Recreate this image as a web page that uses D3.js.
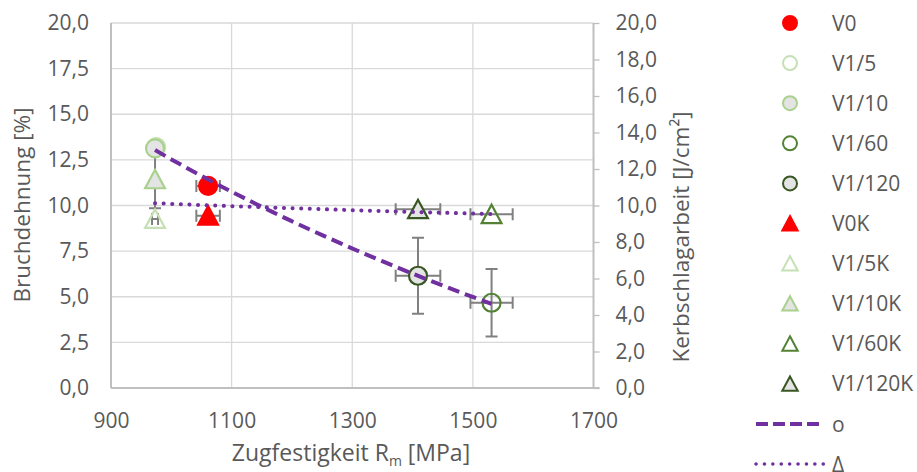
<!DOCTYPE html>
<html><head><meta charset="utf-8">
<script src="https://cdn.jsdelivr.net/npm/d3@7"></script>
<style>
body{margin:0;background:#fff;}
svg text{font-family:"Open Sans",sans-serif;fill:#595959;}
</style>
</head><body>
<svg id="chart" width="917" height="472"></svg>
<script>
// ---------- DATA ----------
const seriesNames = ["V0","V1/5","V1/10","V1/60","V1/120","V0K","V1/5K","V1/10K","V1/60K","V1/120K"];
const seriesGroup = ["o","o","o","o","o","Δ","Δ","Δ","Δ","Δ"];   // o = Bruchdehnung (left), Δ = Kerbschlagarbeit (right)
const tensileStrength = [1061, 975, 973, 1531, 1409, 1061, 973, 973, 1531, 1409];   // MPa
const measuredValues  = [11.07, 13.2, 13.13, 4.67, 6.15, 9.44, 9.26, 11.43, 9.52, 9.79];
const errTensile      = [19.5, 0, 0, 35, 37, 19.5, 5, 0, 35, 37];
const errValue        = [0, 0, 0, 1.85, 2.08, 0, 0, 1.58, 0, 0];
const trendNames = ["o","Δ"];
const xTickValues = [900, 1100, 1300, 1500, 1700];
const leftTickValues = [0, 2.5, 5, 7.5, 10, 12.5, 15, 17.5, 20];
const rightTickValues = [0, 2, 4, 6, 8, 10, 12, 14, 16, 18, 20];

// ---------- STYLE ----------
const styles = {
  "V0":      {shape:"circle",   stroke:"#ff0000", fill:"#ff0000"},
  "V1/5":    {shape:"circle",   stroke:"#c5e0b4", fill:"none"},
  "V1/10":   {shape:"circle",   stroke:"#a9d18e", fill:"#e4e4e4"},
  "V1/60":   {shape:"circle",   stroke:"#548235", fill:"none"},
  "V1/120":  {shape:"circle",   stroke:"#385723", fill:"#e4e4e4"},
  "V0K":     {shape:"triangle", stroke:"#ff0000", fill:"#ff0000"},
  "V1/5K":   {shape:"triangle", stroke:"#c5e0b4", fill:"none"},
  "V1/10K":  {shape:"triangle", stroke:"#a9d18e", fill:"#e4e4e4"},
  "V1/60K":  {shape:"triangle", stroke:"#548235", fill:"none"},
  "V1/120K": {shape:"triangle", stroke:"#385723", fill:"#e4e4e4"}
};
const trendStyle = {
  "o": {dash:"12,6", cap:"butt", width:4},
  "Δ": {dash:"0.1,8.5", cap:"round", width:4}
};
const purple = "#7030a0";
const gridColor = "#d9d9d9", axisColor = "#bfbfbf", errColor = "#808080";

// ---------- SCALES ----------
const svg = d3.select("#chart");
const x = d3.scaleLinear().domain([900, 1700]).range([111, 593.5]);
const yL = d3.scaleLinear().domain([0, 20]).range([388, 23]);
const yR = d3.scaleLinear().domain([0, 20]).range([388, 23]);
const locale = d3.formatLocale({decimal: ",", thousands: ".", grouping: [3], currency: ["", "€"]});
const f1 = locale.format(".1f");

const points = seriesNames.map((n, i) => ({
  name: n, group: seriesGroup[i], x: tensileStrength[i], y: measuredValues[i],
  ex: errTensile[i], ey: errValue[i]
}));
const yFor = p => p.group === "o" ? yL : yR;

// ---------- GRID ----------
const grid = svg.append("g");
grid.selectAll("line.h").data(leftTickValues.filter(v => v > 0)).join("line")
  .attr("x1", x(900)).attr("x2", x(1700))
  .attr("y1", d => yL(d)).attr("y2", d => yL(d))
  .attr("stroke", gridColor).attr("stroke-width", 1.3);
grid.selectAll("line.v").data(xTickValues.filter(v => v > 900 && v < 1700)).join("line")
  .attr("x1", d => x(d)).attr("x2", d => x(d))
  .attr("y1", yL(0)).attr("y2", yL(20))
  .attr("stroke", gridColor).attr("stroke-width", 1.3);

// ---------- AXES ----------
const axL = svg.append("g").attr("transform", `translate(${x(900)},0)`)
  .call(d3.axisLeft(yL).tickValues(leftTickValues).tickFormat(f1).tickSize(0).tickPadding(22));
const axR = svg.append("g").attr("transform", `translate(${x(1700)},0)`)
  .call(d3.axisRight(yR).tickValues(rightTickValues).tickFormat(f1).tickSize(6).tickPadding(16));
const axB = svg.append("g").attr("transform", `translate(0,${yL(0)})`)
  .call(d3.axisBottom(x).tickValues(xTickValues).tickFormat(d3.format("d")).tickSize(0).tickPadding(25));
[axL, axR, axB].forEach(a => {
  a.select(".domain").attr("stroke", axisColor).attr("stroke-width", 2);
  a.selectAll(".tick line").attr("stroke", axisColor).attr("stroke-width", 1.3);
  a.selectAll("text").style("font-size", "21px").style("font-family", '"Open Sans",sans-serif').attr("fill", "#595959");
});
axR.select(".domain").attr("d", `M0,${yR(0)}V${yR(20)}`);
axL.select(".domain").attr("d", `M0,${yL(0)}V${yL(20)}`);
axB.select(".domain").attr("d", `M${x(900)},0H${x(1700) + 6}`);

// ---------- TITLES ----------
svg.append("text").attr("transform", `translate(30,205) rotate(-90)`)
  .attr("text-anchor", "middle").style("font-size", "22.5px").text("Bruchdehnung [%]");
const rt = svg.append("text").attr("transform", `translate(689,237) rotate(-90)`)
  .attr("text-anchor", "middle").style("font-size", "22.5px");
rt.append("tspan").text("Kerbschlagarbeit [J/cm²]");
const xt = svg.append("text").attr("x", 351).attr("y", 461).attr("text-anchor", "middle").style("font-size", "23px");
xt.append("tspan").text("Zugfestigkeit R");
xt.append("tspan").attr("dy", 5).style("font-size", "14px").text("m");
xt.append("tspan").attr("dy", -5).text(" [MPa]");

// ---------- ERROR BARS ----------
const eb = svg.append("g").attr("stroke", errColor).attr("stroke-width", 2).attr("fill", "none");
const cap = 6;
points.forEach(p => {
  const ys = yFor(p);
  const cx = x(p.x), cy = ys(p.y);
  if (p.ex > 0) {
    const x0 = x(p.x - p.ex), x1 = x(p.x + p.ex);
    eb.append("path").attr("d", `M${x0},${cy}H${x1}M${x0},${cy - cap}V${cy + cap}M${x1},${cy - cap}V${cy + cap}`);
  }
  if (p.ey > 0) {
    const y0 = ys(p.y - p.ey), y1 = ys(p.y + p.ey);
    eb.append("path").attr("d", `M${cx},${y0}V${y1}M${cx - cap},${y0}H${cx + cap}M${cx - cap},${y1}H${cx + cap}`);
  }
});

// ---------- MARKERS ----------
function drawMarker(g, shape, cx, cy, r, st, sw) {
  if (shape === "circle") {
    g.append("circle").attr("cx", cx).attr("cy", cy).attr("r", r)
      .attr("fill", st.fill).attr("stroke", st.stroke).attr("stroke-width", sw);
  } else {
    const h = r * 2.05, w = r * 2.2;
    g.append("path").attr("d", `M${cx},${cy - h * 0.52}L${cx + w / 2},${cy + h * 0.48}L${cx - w / 2},${cy + h * 0.48}Z`)
      .attr("fill", st.fill).attr("stroke", st.stroke).attr("stroke-width", sw).attr("stroke-linejoin", "miter");
  }
}
const mk = svg.append("g");
points.forEach(p => {
  const st = styles[p.name];
  drawMarker(mk, st.shape, x(p.x), yFor(p)(p.y), 9, st, 2.2);
});

// ---------- TREND LINES (logarithmic least squares fit of each group) ----------
function logFit(pts) {
  const X = pts.map(p => Math.log(p.x)), Y = pts.map(p => p.y);
  const mx = d3.mean(X), my = d3.mean(Y);
  const b = d3.sum(X, (v, i) => (v - mx) * (Y[i] - my)) / d3.sum(X, v => (v - mx) * (v - mx));
  const a = my - b * mx;
  return v => a + b * Math.log(v);
}
trendNames.forEach(t => {
  const pts = points.filter(p => p.group === t);
  const fn = logFit(pts);
  const [xmin, xmax] = d3.extent(pts, p => p.x);
  const xs = d3.range(0, 41).map(i => xmin + (xmax - xmin) * i / 40);
  const ys = t === "o" ? yL : yR;
  const st = trendStyle[t];
  svg.append("path").datum(xs)
    .attr("d", d3.line().x(d => x(d)).y(d => ys(fn(d))))
    .attr("fill", "none").attr("stroke", purple).attr("stroke-width", st.width)
    .attr("stroke-dasharray", st.dash).attr("stroke-linecap", st.cap);
});

// ---------- LEGEND ----------
const lg = svg.append("g");
const rowY = i => 23 + i * 40.1;
seriesNames.forEach((n, i) => {
  const st = styles[n];
  drawMarker(lg, st.shape, 790, rowY(i), 7, st, 2);
  lg.append("text").attr("x", 832).attr("y", rowY(i)).attr("dy", "0.36em").style("font-size", "21px").text(n);
});
trendNames.forEach((t, j) => {
  const i = seriesNames.length + j;
  const st = trendStyle[t];
  lg.append("line").attr("x1", 756).attr("x2", 824).attr("y1", rowY(i)).attr("y2", rowY(i))
    .attr("stroke", purple).attr("stroke-width", t === "o" ? 4 : 3.5)
    .attr("stroke-dasharray", t === "o" ? "12,5" : "0.1,8.3").attr("stroke-linecap", st.cap);
  lg.append("text").attr("x", 832).attr("y", rowY(i)).attr("dy", "0.36em").style("font-size", "21px").text(t);
});
</script>
</body></html>
